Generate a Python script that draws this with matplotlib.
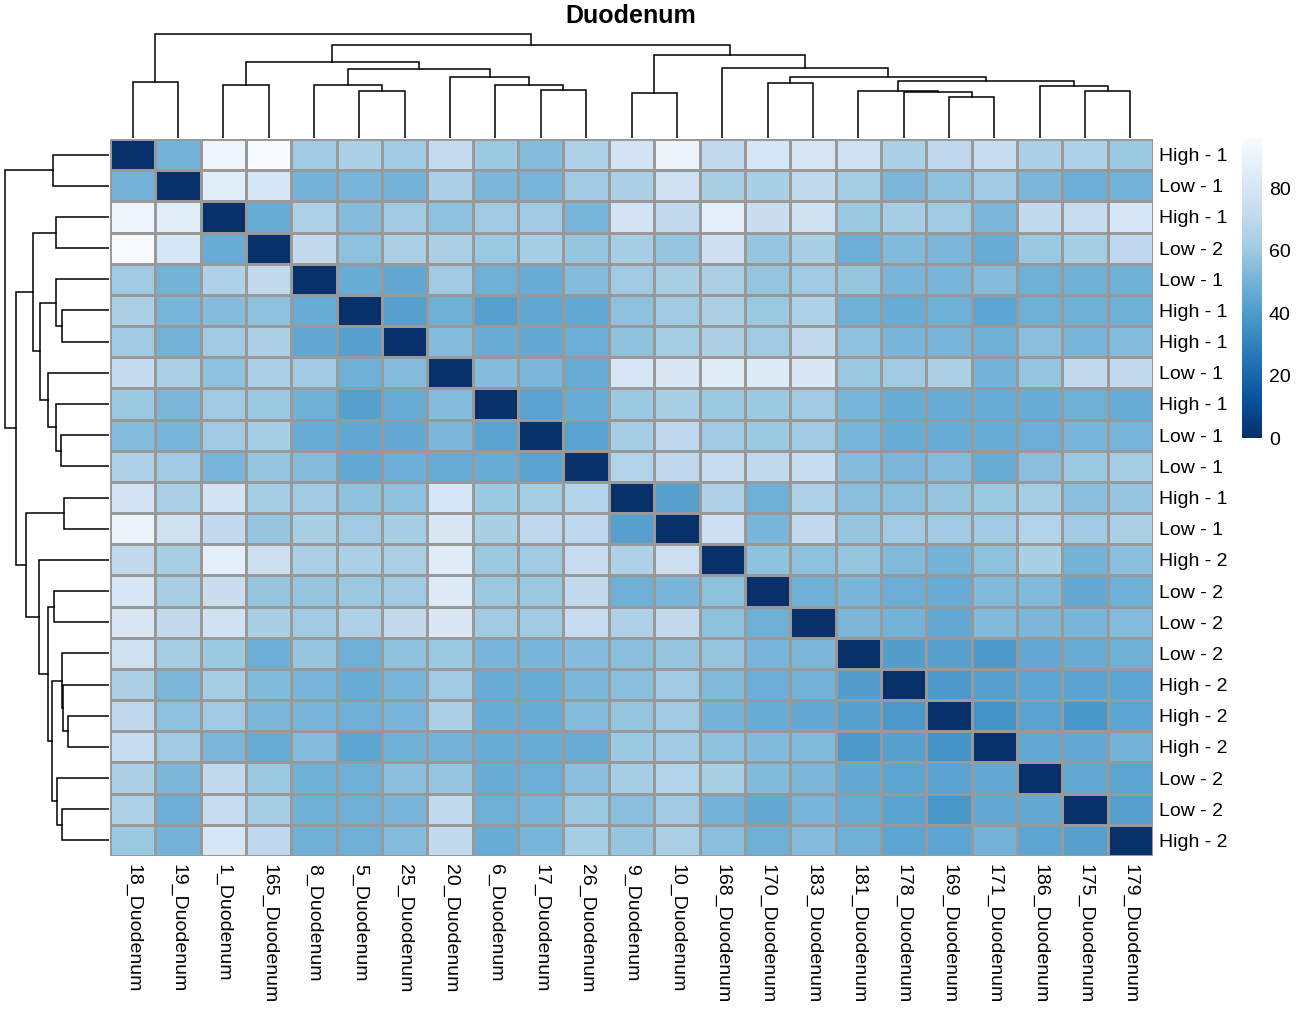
import numpy as np
import matplotlib
matplotlib.use("Agg")
import matplotlib.pyplot as plt

plt.rcParams['font.family'] = ['Liberation Sans', 'DejaVu Sans']

# samples in clustered (display) order
samples = ["18_Duodenum", "19_Duodenum", "1_Duodenum", "165_Duodenum", "8_Duodenum",
           "5_Duodenum", "25_Duodenum", "20_Duodenum", "6_Duodenum", "17_Duodenum",
           "26_Duodenum", "9_Duodenum", "10_Duodenum", "168_Duodenum", "170_Duodenum",
           "183_Duodenum", "181_Duodenum", "178_Duodenum", "169_Duodenum", "171_Duodenum",
           "186_Duodenum", "175_Duodenum", "179_Duodenum"]

row_labels = ["High - 1", "Low - 1", "High - 1", "Low - 2", "Low - 1", "High - 1",
              "High - 1", "Low - 1", "High - 1", "Low - 1", "Low - 1", "High - 1",
              "Low - 1", "High - 2", "Low - 2", "Low - 2", "Low - 2", "High - 2",
              "High - 2", "High - 2", "Low - 2", "Low - 2", "High - 2"]

# upper triangle of the sample distance matrix (row i, columns i+1 ..)
dist_upper = [
    [50, 91, 96, 60, 64, 60, 72, 59, 54, 65, 78, 90, 71, 80, 81, 77, 64, 70, 73, 64, 65, 59],
    [85, 80, 50, 51, 50, 64, 52, 51, 60, 64, 77, 63, 63, 71, 62, 52, 56, 60, 52, 48, 50],
    [47, 65, 54, 61, 56, 60, 60, 51, 78, 71, 87, 74, 77, 59, 62, 60, 52, 71, 73, 80],
    [71, 56, 64, 64, 59, 62, 58, 62, 58, 75, 58, 63, 48, 53, 52, 47, 59, 62, 70],
    [47, 45, 61, 49, 47, 54, 60, 63, 64, 58, 60, 58, 51, 51, 54, 49, 49, 49],
    [42, 49, 42, 45, 46, 56, 60, 64, 59, 65, 49, 47, 49, 44, 49, 49, 49],
    [54, 47, 46, 48, 56, 62, 64, 61, 71, 56, 51, 51, 49, 55, 51, 54],
    [54, 52, 47, 80, 81, 84, 83, 82, 59, 60, 64, 50, 58, 71, 71],
    [43, 47, 59, 63, 59, 59, 61, 51, 47, 47, 47, 47, 49, 47],
    [43, 62, 70, 60, 59, 61, 51, 47, 47, 47, 48, 51, 51],
    [66, 70, 73, 71, 73, 54, 52, 54, 47, 55, 59, 62],
    [42, 65, 49, 65, 55, 55, 58, 59, 62, 55, 58],
    [75, 51, 71, 58, 60, 61, 61, 66, 61, 64],
    [56, 56, 58, 53, 50, 56, 63, 50, 55],
    [49, 51, 48, 47, 53, 53, 46, 49],
    [52, 50, 46, 53, 52, 51, 54],
    [41, 42, 39, 46, 47, 49],
    [39, 42, 44, 43, 44],
    [37, 43, 38, 44],
    [46, 46, 50],
    [46, 44],
    [42],
]

# hierarchical clustering merges: (left, right, height); ids >= 23 refer to earlier merges
merges = [
    (0, 1, 54.0), (2, 3, 50.5), (5, 6, 44.8), (4, 25, 50.5), (9, 10, 46.0),
    (8, 27, 50.5), (7, 28, 58.1), (26, 29, 65.7), (24, 30, 73.0), (11, 12, 42.9),
    (14, 15, 52.4), (18, 19, 39.0), (17, 34, 44.1), (16, 35, 45.1), (21, 22, 45.4),
    (20, 37, 50.2), (36, 38, 54.6), (33, 39, 58.7), (13, 40, 67.3), (32, 41, 79.4),
    (31, 42, 88.6), (23, 43, 100.0),
]

n = len(samples)
D = np.zeros((n, n))
for i, row in enumerate(dist_upper):
    for k, v in enumerate(row):
        j = i + 1 + k
        D[i, j] = v
        D[j, i] = v


def dendro_segments(merges, n):
    pos = {i: i + 0.5 for i in range(n)}
    hgt = {i: 0.0 for i in range(n)}
    segs = []
    for k, (a, b, h) in enumerate(merges):
        xa, xb = pos[a], pos[b]
        segs.append(([xa, xa, xb, xb], [hgt[a], h, h, hgt[b]]))
        pos[n + k] = (xa + xb) / 2
        hgt[n + k] = h
    return segs


W, H = 1299, 1017
fig = plt.figure(figsize=(W / 100, H / 100), dpi=100)

hm_l, hm_r, hm_t, hm_b = 110, 1153, 139, 856
ax = fig.add_axes([hm_l / W, 1 - hm_b / H, (hm_r - hm_l) / W, (hm_b - hm_t) / H])
mesh = ax.pcolormesh(D, cmap='Blues_r', vmin=0, vmax=D.max(),
                     edgecolors='#999999', linewidth=1.0)
ax.set_xlim(0, n)
ax.set_ylim(n, 0)
for s in ax.spines.values():
    s.set_visible(False)
ax.set_xticks(np.arange(n) + 0.5)
ax.set_xticklabels(samples, rotation=270, fontsize=14, va='top', ha='center')
ax.set_yticks(np.arange(n) + 0.5)
ax.set_yticklabels(row_labels, fontsize=14)
ax.yaxis.tick_right()
ax.tick_params(axis='x', length=0, pad=6)
ax.tick_params(axis='y', length=0, pad=4)

segs = dendro_segments(merges, n)

# top dendrogram
axt = fig.add_axes([hm_l / W, 1 - 138 / H, (hm_r - hm_l) / W, (138 - 33) / H])
for xs, ys in segs:
    axt.plot(xs, ys, color='black', linewidth=1.1, solid_joinstyle='miter')
axt.set_xlim(0, n)
axt.set_ylim(0, 100.5)
axt.axis('off')

# left dendrogram
axl = fig.add_axes([4 / W, 1 - hm_b / H, (109 - 4) / W, (hm_b - hm_t) / H])
for xs, ys in segs:
    axl.plot(ys, xs, color='black', linewidth=1.1, solid_joinstyle='miter')
axl.set_ylim(n, 0)
axl.set_xlim(100.5, 0)
axl.axis('off')

# colour key
cax = fig.add_axes([1242 / W, 1 - 438 / H, 20 / W, 300 / H])
cb = fig.colorbar(mesh, cax=cax, ticks=[0, 20, 40, 60, 80])
cb.outline.set_visible(False)
cax.tick_params(length=0, labelsize=14, pad=5)

fig.text(631 / W, 1 - 16 / H, "Duodenum", ha='center', va='center',
         fontsize=18, fontweight='bold')

fig.savefig("out.png", dpi=100)
